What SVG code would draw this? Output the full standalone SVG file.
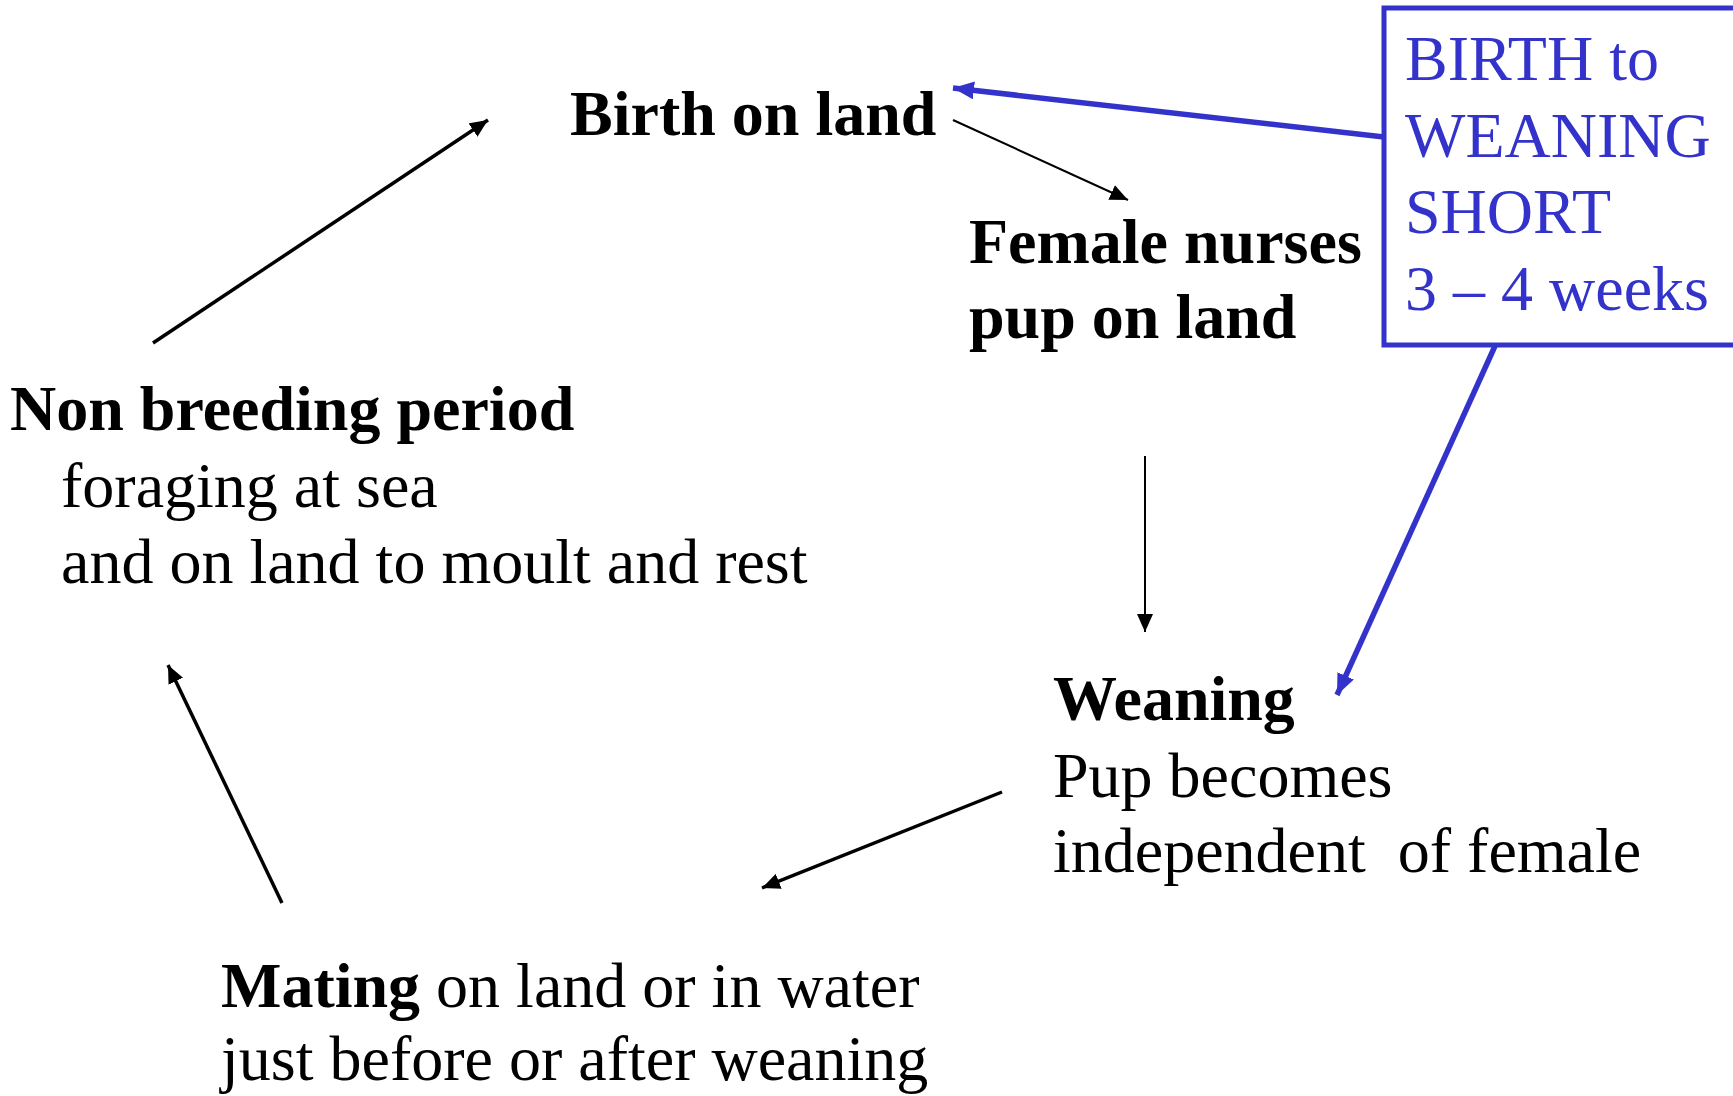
<svg xmlns="http://www.w3.org/2000/svg" width="1733" height="1096" viewBox="0 0 1733 1096">
<style>
text{font-family:"Liberation Serif","Times New Roman",serif;font-size:64px;fill:#000}
.b{font-weight:bold}
.blue{fill:#3333CC}
.k{stroke:#000;fill:none}
.bl{stroke:#3333CC;fill:none;stroke-width:5.5}
</style>
<defs>
<marker id="ak" markerUnits="userSpaceOnUse" markerWidth="20" markerHeight="16" refX="18" refY="8" orient="auto"><path d="M0,0 L18,8 L0,16 z" fill="#000"/></marker>
<marker id="ab" markerUnits="userSpaceOnUse" markerWidth="22" markerHeight="18" refX="21" refY="9" orient="auto"><path d="M0,0 L21,9 L0,18 z" fill="#3333CC"/></marker>
</defs>
<rect width="1733" height="1096" fill="#fff"/>
<g id="connectors">
<line class="k" stroke-width="2" x1="953" y1="120" x2="1128" y2="200" marker-end="url(#ak)"/>
<line class="k" stroke-width="3.5" x1="153" y1="343" x2="488" y2="120" marker-end="url(#ak)"/>
<line class="k" stroke-width="2" x1="1145" y1="456" x2="1145" y2="632" marker-end="url(#ak)"/>
<line class="k" stroke-width="3.5" x1="1002" y1="792" x2="762" y2="888" marker-end="url(#ak)"/>
<line class="k" stroke-width="3.5" x1="282" y1="903" x2="168" y2="665" marker-end="url(#ak)"/>
<line class="bl" x1="1384" y1="137" x2="953" y2="88" marker-end="url(#ab)"/>
<line class="bl" x1="1495" y1="346" x2="1337" y2="695" marker-end="url(#ab)"/>
</g>
<g id="birth"><text class="b" x="570" y="135">Birth on land</text></g>
<g id="nurses"><text class="b" x="969" y="263">Female nurses</text><text class="b" x="969" y="338">pup on land</text></g>
<g id="weaning"><text class="b" x="1053" y="720">Weaning</text><text x="1053" y="797">Pup becomes</text><text x="1053" y="872" xml:space="preserve">independent  of female</text></g>
<g id="mating"><text x="221" y="1007"><tspan class="b">Mating</tspan> on land or in water</text><text x="221" y="1080">just before or after weaning</text></g>
<g id="nonbreeding"><text class="b" x="10" y="430">Non breeding period</text><text x="61" y="507">foraging at sea</text><text x="61" y="583">and on land to moult and rest</text></g>
<g id="note">
<rect x="1384" y="8" width="400" height="337" fill="none" stroke="#3333CC" stroke-width="5"/>
<text class="blue" x="1405" y="80">BIRTH to</text>
<text class="blue" x="1405" y="157">WEANING</text>
<text class="blue" x="1405" y="233">SHORT</text>
<text class="blue" x="1405" y="310">3 – 4 weeks</text>
</g>
</svg>
